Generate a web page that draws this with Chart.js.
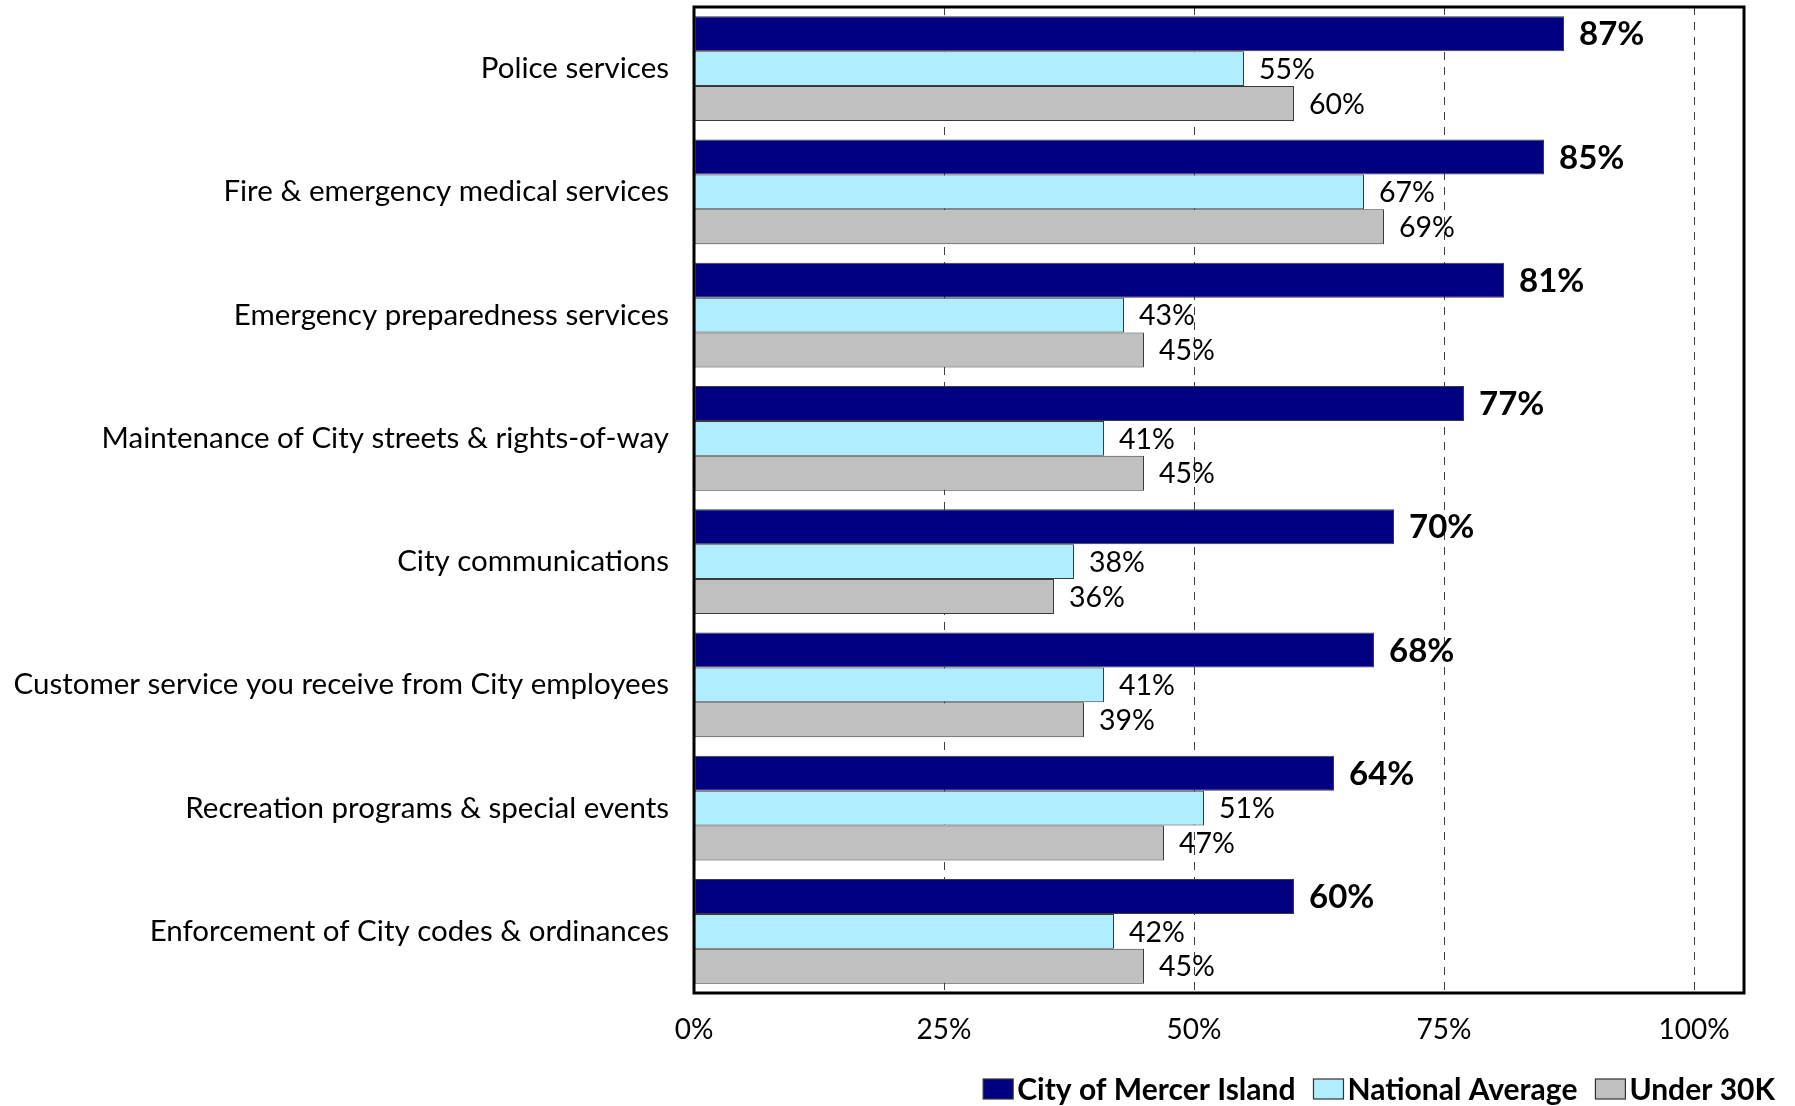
<!DOCTYPE html>
<html>
<head>
<meta charset="utf-8">
<script src="https://cdn.jsdelivr.net/npm/chart.js@4/dist/chart.umd.min.js"></script>
<style>
  html, body { margin: 0; padding: 0; background: #ffffff; }
  #wrap { width: 1795px; height: 1106px; position: relative; }
</style>
</head>
<body>
<div id="wrap"><canvas id="c" width="1795" height="1106"></canvas></div>
<script>
const categories = [
  "Police services",
  "Fire & emergency medical services",
  "Emergency preparedness services",
  "Maintenance of City streets & rights-of-way",
  "City communications",
  "Customer service you receive from City employees",
  "Recreation programs & special events",
  "Enforcement of City codes & ordinances"
];
const seriesNames = ["City of Mercer Island", "National Average", "Under 30K"];
const mercerIsland = [87, 85, 81, 77, 70, 68, 64, 60];
const nationalAverage = [55, 67, 43, 41, 38, 41, 51, 42];
const under30K = [60, 69, 45, 45, 36, 39, 47, 45];
const tickValues = [0, 25, 50, 75, 100];

const colors = ["#000080", "#B0EEFF", "#C0C0C0"];
const FONT = "Lato, 'Open Sans', sans-serif";

const valueLabels = {
  id: 'valueLabels',
  afterDatasetsDraw(chart) {
    const ctx = chart.ctx;
    ctx.save();
    ctx.textBaseline = 'middle';
    ctx.textAlign = 'left';
    ctx.fillStyle = '#000';
    chart.data.datasets.forEach((ds, di) => {
      const meta = chart.getDatasetMeta(di);
      ctx.font = (di === 0 ? 'bold 33px ' : '28.5px ') + FONT;
      meta.data.forEach((el, i) => {
        ctx.fillText(ds.data[i] + '%', el.x + 15, el.y + 1);
      });
    });
    ctx.restore();
  }
};

const frame = {
  id: 'frame',
  afterDraw(chart) {
    const a = chart.chartArea, ctx = chart.ctx;
    ctx.save();
    ctx.strokeStyle = '#000';
    ctx.lineWidth = 3;
    ctx.strokeRect(a.left, a.top, a.right - a.left, a.bottom - a.top);
    ctx.restore();
  }
};

const customLegend = {
  id: 'customLegend',
  afterDraw(chart) {
    const ctx = chart.ctx;
    ctx.save();
    ctx.font = 'bold 30px ' + FONT;
    ctx.textBaseline = 'middle';
    const boxW = 30, boxH = 20, gap = 4, spacing = 18;
    const widths = chart.data.datasets.map(d => ctx.measureText(d.label).width);
    let total = 0;
    widths.forEach((w, i) => { total += boxW + gap + w + (i < widths.length - 1 ? spacing : 0); });
    let x = 1775 - total;
    const yc = 1089;
    chart.data.datasets.forEach((d, i) => {
      ctx.fillStyle = d.backgroundColor;
      ctx.fillRect(x, yc - boxH / 2, boxW, boxH);
      ctx.strokeStyle = '#333';
      ctx.lineWidth = 1.2;
      ctx.strokeRect(x, yc - boxH / 2, boxW, boxH);
      ctx.fillStyle = '#000';
      ctx.fillText(d.label, x + boxW + gap, yc + 1);
      x += boxW + gap + widths[i] + spacing;
    });
    ctx.restore();
  }
};

new Chart(document.getElementById('c'), {
  type: 'bar',
  data: {
    labels: categories,
    datasets: [
      { label: seriesNames[0], data: mercerIsland, backgroundColor: colors[0] },
      { label: seriesNames[1], data: nationalAverage, backgroundColor: colors[1] },
      { label: seriesNames[2], data: under30K, backgroundColor: colors[2] }
    ].map(d => Object.assign(d, {
      borderColor: '#3a3a3a', borderWidth: 1, borderSkipped: false,
      barPercentage: 1.0, categoryPercentage: 0.85
    }))
  },
  options: {
    indexAxis: 'y',
    responsive: false,
    animation: false,
    events: [],
    layout: { padding: { top: 7, right: 51, bottom: 59, left: 10 } },
    plugins: { legend: { display: false }, tooltip: { enabled: false } },
    scales: {
      x: {
        min: 0, max: 105,
        afterBuildTicks: s => { s.ticks = tickValues.map(v => ({ value: v })); },
        afterFit: s => { s.height = 54; s.paddingLeft = 0; s.paddingRight = 0; },
        grid: { color: '#404040', lineWidth: 1, drawTicks: false },
        border: { display: false, dash: [8, 7] },
        ticks: {
          padding: 20,
          color: '#000',
          font: { family: FONT, size: 28 },
          callback: v => v + '%'
        }
      },
      y: {
        afterFit: s => { s.width = 684; s.paddingTop = 0; s.paddingBottom = 0; },
        grid: { display: false, drawTicks: false },
        border: { display: false },
        ticks: {
          padding: 25,
          color: '#000',
          font: { family: FONT, size: 29.5 }
        }
      }
    }
  },
  plugins: [valueLabels, frame, customLegend]
});
</script>
</body>
</html>
